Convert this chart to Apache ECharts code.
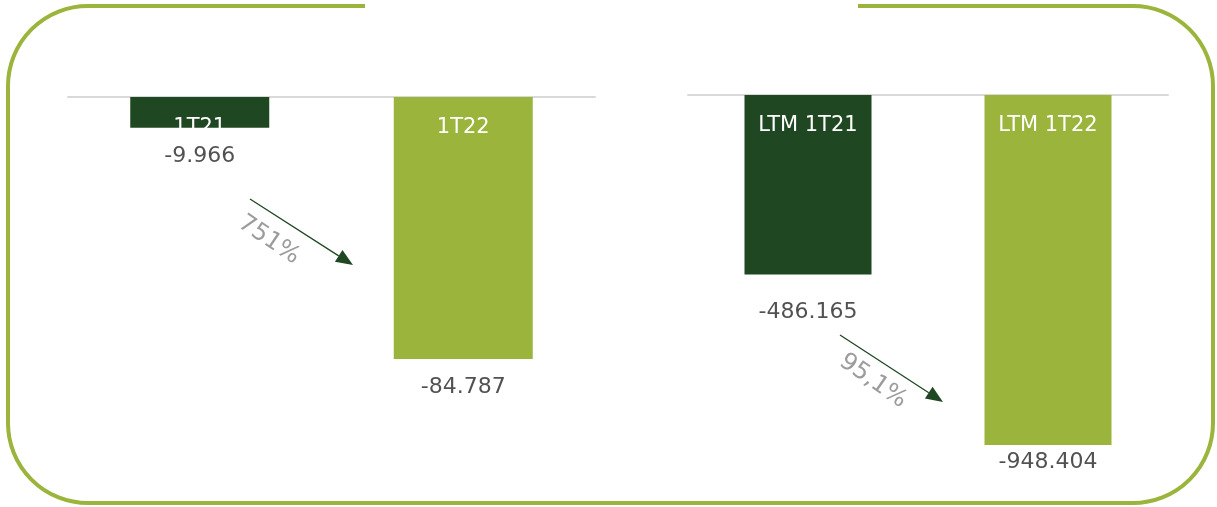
<!DOCTYPE html>
<html>
<head>
<meta charset="utf-8">
<script src="https://cdn.jsdelivr.net/npm/echarts@6/dist/echarts.min.js"></script>
<style>
  html, body { margin: 0; padding: 0; background: #ffffff; }
  #chart { width: 1217px; height: 507px; }
</style>
</head>
<body>
<div id="chart"></div>
<script>
// ---- data ----
const leftCategories = ['1T21', '1T22'];
const leftValues = [-9966, -84787];
const rightCategories = ['LTM 1T21', 'LTM 1T22'];
const rightValues = [-486165, -948404];
const changeLabels = ['751%', '95,1%'];

// ---- styles ----
const DARK = '#1f4722';
const OLIVE = '#9ab43c';
const FONT = 'DejaVu Sans';

function fmt(v) {
  const s = Math.abs(v).toString().replace(/\B(?=(\d{3})+(?!\d))/g, '.');
  return (v < 0 ? '-' : '') + s;
}

function barSeries(cats, vals, idx, barWidth) {
  return {
    type: 'bar',
    xAxisIndex: idx, yAxisIndex: idx,
    barWidth: barWidth,
    data: vals.map((v, i) => ({ value: v, itemStyle: { color: i === 0 ? DARK : OLIVE } })),
    label: {
      show: true, position: 'insideTop', distance: 20,
      color: '#ffffff', fontSize: 21, fontFamily: FONT,
      formatter: p => cats[p.dataIndex]
    },
    silent: true
  };
}

function valueSeries(vals, idx, gaps) {
  return {
    type: 'scatter',
    xAxisIndex: idx, yAxisIndex: idx,
    symbolSize: 0,
    data: vals.map((v, i) => ({ value: v, label: { distance: gaps[i] } })),
    label: {
      show: true, position: 'bottom',
      color: '#262626', fontSize: 22, fontFamily: FONT,
      formatter: p => fmt(p.value)
    },
    silent: true
  };
}

function arrow(x1, y1, x2, y2) {
  const dx = x2 - x1, dy = y2 - y1, L = Math.hypot(dx, dy);
  const ux = dx / L, uy = dy / L, px = -uy, py = ux;
  const hl = 17, hw = 7;
  const bx = x2 - ux * hl, by = y2 - uy * hl;
  return [
    { type: 'line', shape: { x1: x1, y1: y1, x2: bx, y2: by }, style: { stroke: DARK, lineWidth: 1.3 }, silent: true },
    { type: 'polygon', shape: { points: [[x2, y2], [bx + px * hw, by + py * hw], [bx - px * hw, by - py * hw]] }, style: { fill: DARK }, silent: true }
  ];
}

const chart = echarts.init(document.getElementById('chart'));
const option = {
  animation: false,
  backgroundColor: '#ffffff',
  grid: [
    { left: 68, top: 97, width: 527, height: 309 },
    { left: 688, top: 95, width: 480, height: 369 }
  ],
  xAxis: [0, 1].map(i => ({
    type: 'category', gridIndex: i, position: 'top',
    data: i === 0 ? leftCategories : rightCategories,
    axisLine: { show: true, onZero: true, lineStyle: { color: '#d9d9d9', width: 2 } },
    axisTick: { show: false }, axisLabel: { show: false }, splitLine: { show: false }
  })),
  yAxis: [
    { type: 'value', gridIndex: 0, min: -100000, max: 0, show: false, splitLine: { show: false } },
    { type: 'value', gridIndex: 1, min: -1000000, max: 0, show: false, splitLine: { show: false } }
  ],
  series: [
    barSeries(leftCategories, leftValues, 0, 139),
    barSeries(rightCategories, rightValues, 1, 127),
    valueSeries(leftValues, 0, [17, 17]),
    valueSeries(rightValues, 1, [27, 6])
  ],
  graphic: [
    { type: 'rect', shape: { x: 8, y: 6, width: 1205, height: 497, r: 80 },
      style: { fill: 'none', stroke: OLIVE, lineWidth: 4 }, silent: true, z: 0 },
    { type: 'rect', shape: { x: 365, y: 0, width: 493, height: 14 },
      style: { fill: '#ffffff' }, silent: true, z: 1 },
    ...arrow(250, 199, 353, 265),
    ...arrow(840, 335, 943, 402),
    { type: 'text', x: 269, y: 240, rotation: -34 * Math.PI / 180,
      style: { text: changeLabels[0], fill: '#9c9c9c', fontSize: 24, fontFamily: FONT, align: 'center', verticalAlign: 'middle' }, silent: true },
    { type: 'text', x: 873, y: 381, rotation: -35 * Math.PI / 180,
      style: { text: changeLabels[1], fill: '#9c9c9c', fontSize: 24, fontFamily: FONT, align: 'center', verticalAlign: 'middle' }, silent: true }
  ]
};
chart.setOption(option);
</script>
</body>
</html>
